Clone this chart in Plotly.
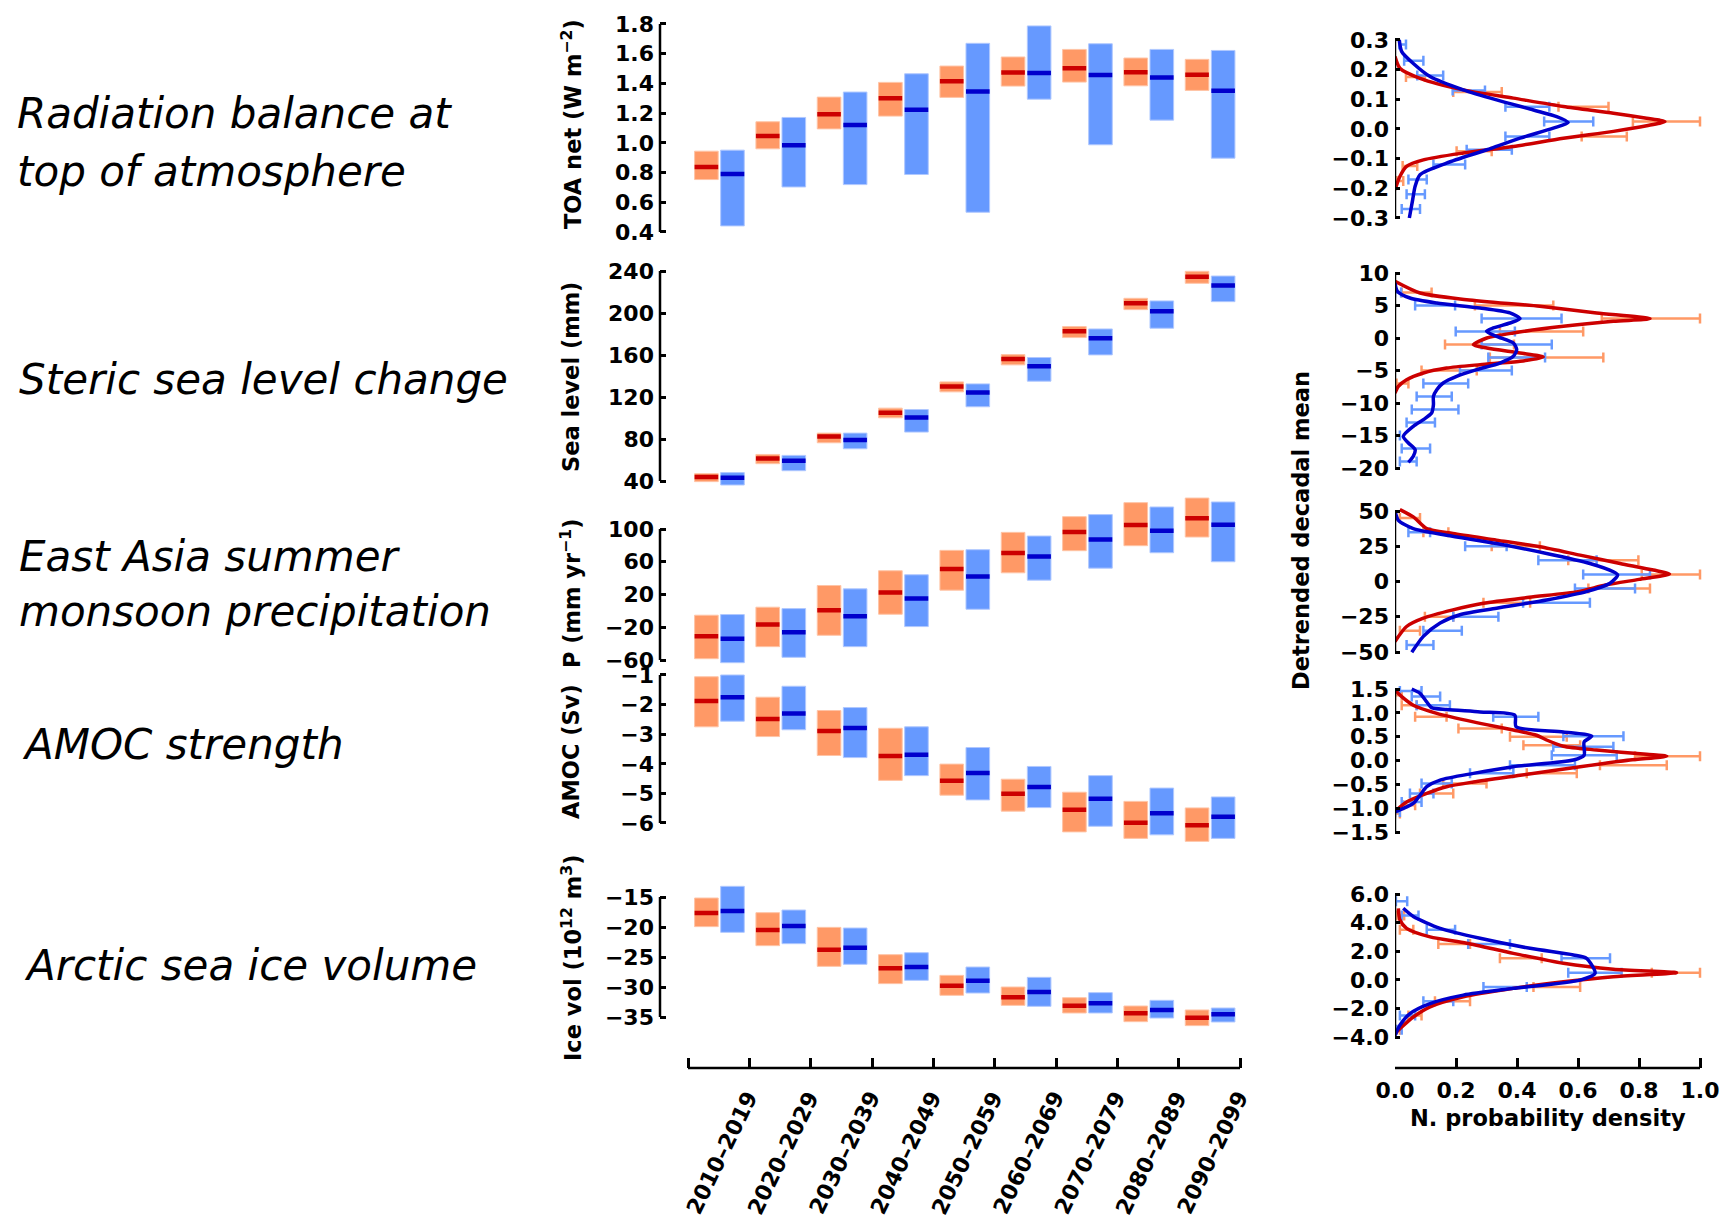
import plotly.graph_objects as go

W, H = 1735, 1222
FONT = "DejaVu Sans, Verdana, sans-serif"

ORANGE = "#FF9966"
ORANGE_EDGE = "#FFC4A6"
BLUE = "#6699FF"
BLUE_EDGE = "#B0C8FF"
RED = "#CC0000"
DBLUE = "#0000CC"

decades = ["2010–2019", "2020–2029", "2030–2039", "2040–2049", "2050–2059",
           "2060–2069", "2070–2079", "2080–2089", "2090–2099"]

# ---- decadal ranges (low / high / median) for the two ensembles ----
toa_r_lo = [0.753, 0.960, 1.094, 1.180, 1.306, 1.382, 1.409, 1.384, 1.353]
toa_r_hi = [0.944, 1.142, 1.308, 1.407, 1.517, 1.578, 1.629, 1.571, 1.562]
toa_r_med = [0.838, 1.047, 1.193, 1.301, 1.414, 1.474, 1.503, 1.476, 1.458]
toa_b_lo = [0.441, 0.703, 0.719, 0.787, 0.533, 1.294, 0.987, 1.153, 0.897]
toa_b_hi = [0.951, 1.171, 1.342, 1.465, 1.670, 1.787, 1.667, 1.629, 1.622]
toa_b_med = [0.791, 0.984, 1.121, 1.223, 1.346, 1.470, 1.456, 1.440, 1.351]

sea_r_lo = [39.4, 56.5, 76.4, 100.2, 124.9, 150.6, 176.6, 203.2, 228.3]
sea_r_hi = [47.0, 65.3, 85.6, 109.4, 134.4, 160.4, 187.1, 214.0, 239.7]
sea_r_med = [43.8, 61.5, 82.4, 105.0, 130.0, 156.3, 182.6, 209.3, 234.6]
sea_b_lo = [36.2, 49.8, 70.7, 86.6, 110.7, 135.1, 160.1, 185.5, 210.8]
sea_b_hi = [48.0, 64.4, 85.6, 108.1, 132.5, 157.6, 184.8, 211.5, 235.2]
sea_b_med = [43.1, 59.3, 79.0, 100.5, 124.3, 149.3, 176.0, 201.6, 226.1]

pr_r_lo = [-58.4, -43.7, -29.8, -4.1, 25.3, 46.5, 73.5, 79.6, 90.2]
pr_r_hi = [-5.3, 4.5, 31.0, 49.0, 73.9, 95.9, 115.1, 132.2, 137.8]
pr_r_med = [-31.0, -16.7, 0.8, 22.4, 51.0, 70.6, 96.3, 104.9, 113.0]
pr_b_lo = [-63.3, -56.7, -43.7, -19.2, 2.0, 37.5, 52.2, 71.0, 60.0]
pr_b_hi = [-4.5, 2.8, 26.9, 44.1, 74.7, 91.4, 117.6, 126.9, 133.0]
pr_b_med = [-33.9, -26.1, -6.5, 15.1, 42.0, 66.5, 87.3, 98.0, 105.3]

amoc_r_lo = [-2.75, -3.08, -3.72, -4.56, -5.06, -5.60, -6.30, -6.52, -6.62]
amoc_r_hi = [-1.06, -1.75, -2.20, -2.80, -4.01, -4.52, -4.96, -5.27, -5.49]
amoc_r_med = [-1.88, -2.49, -2.89, -3.74, -4.57, -5.01, -5.55, -5.99, -6.08]
amoc_b_lo = [-2.56, -2.85, -3.79, -4.40, -5.22, -5.48, -6.11, -6.40, -6.52]
amoc_b_hi = [-1.00, -1.38, -2.10, -2.75, -3.45, -4.09, -4.40, -4.82, -5.12]
amoc_b_med = [-1.75, -2.30, -2.79, -3.69, -4.31, -4.78, -5.18, -5.67, -5.79]

ice_r_lo = [-19.94, -23.11, -26.56, -29.44, -31.39, -33.06, -34.33, -35.78, -36.44]
ice_r_hi = [-15.17, -17.61, -20.06, -24.61, -28.06, -30.00, -31.78, -33.17, -33.83]
ice_r_med = [-17.67, -20.50, -23.78, -26.89, -29.78, -31.72, -33.11, -34.39, -35.11]
ice_b_lo = [-20.89, -22.78, -26.22, -28.89, -31.00, -33.22, -34.33, -35.17, -35.83]
ice_b_hi = [-13.22, -17.17, -20.17, -24.28, -26.67, -28.39, -30.94, -32.22, -33.50]
ice_b_med = [-17.33, -19.83, -23.44, -26.67, -28.94, -30.83, -32.72, -33.83, -34.56]

# ---- normalised PDFs of detrended decadal means (curve + histogram bins) ----
toa_pdf_r_y = [0.244, 0.205, 0.171, 0.132, 0.104, 0.076, 0.053, 0.036, 0.025, 0.011,
               -0.008, -0.031, -0.059, -0.081, -0.104, -0.126, -0.160, -0.205]
toa_pdf_r_p = [0.0, 0.016, 0.082, 0.224, 0.388, 0.552, 0.716, 0.825, 0.885, 0.825,
               0.716, 0.552, 0.388, 0.224, 0.093, 0.038, 0.016, 0.0]
toa_pdf_b_y = [0.300, 0.261, 0.221, 0.177, 0.132, 0.098, 0.064, 0.042, 0.022, 0.003,
               -0.031, -0.070, -0.115, -0.154, -0.193, -0.238, -0.300]
toa_pdf_b_p = [0.014, 0.022, 0.060, 0.115, 0.224, 0.333, 0.454, 0.530, 0.568, 0.519,
               0.410, 0.301, 0.169, 0.082, 0.066, 0.058, 0.047]
toa_hist_r_y = [0.175, 0.125, 0.075, 0.025, -0.025, -0.075, -0.125, -0.175]
toa_hist_r_lo = [0.036, 0.191, 0.536, 0.780, 0.612, 0.202, 0.025, 0.005]
toa_hist_r_hi = [0.098, 0.350, 0.700, 1.000, 0.760, 0.317, 0.073, 0.027]
toa_hist_b_y = [0.285, 0.23, 0.18, 0.13, 0.075, 0.025, -0.025, -0.07, -0.12, -0.17, -0.22, -0.27]
toa_hist_b_lo = [0.014, 0.030, 0.073, 0.189, 0.362, 0.489, 0.362, 0.235, 0.126, 0.044, 0.038, 0.022]
toa_hist_b_hi = [0.036, 0.093, 0.158, 0.295, 0.506, 0.650, 0.506, 0.383, 0.230, 0.104, 0.098, 0.082]

sea_pdf_r_y = [8.72, 6.92, 5.90, 4.87, 3.85, 2.97, 2.56, 1.79, 0.77, 0.0, -1.03, -1.54,
               -2.31, -2.92, -3.59, -4.10, -4.62, -5.38, -6.41, -7.44, -8.46]
sea_pdf_r_p = [0.0, 0.082, 0.235, 0.475, 0.661, 0.836, 0.716, 0.552, 0.388, 0.301, 0.257, 0.301,
               0.410, 0.486, 0.410, 0.279, 0.169, 0.093, 0.038, 0.011, 0.0]
sea_pdf_b_y = [8.46, 7.18, 6.15, 5.38, 4.62, 3.85, 2.97, 2.31, 1.54, 1.03, 0.26, -0.77, -1.79,
               -2.82, -3.85, -4.87, -5.90, -6.92, -7.95, -8.97, -10.26, -11.54, -12.56,
               -13.59, -15.13, -16.15, -17.18, -18.2, -19.13]
sea_pdf_b_p = [0.0, 0.008, 0.049, 0.137, 0.279, 0.377, 0.410, 0.377, 0.322, 0.300, 0.333, 0.388,
               0.399, 0.388, 0.344, 0.268, 0.202, 0.158, 0.137, 0.126, 0.126, 0.120, 0.093,
               0.060, 0.027, 0.044, 0.066, 0.060, 0.044]
sea_hist_r_y = [7, 5, 3, 1, -1, -3, -5, -7]
sea_hist_r_lo = [0.022, 0.262, 0.678, 0.344, 0.164, 0.311, 0.087, 0.005]
sea_hist_r_hi = [0.120, 0.519, 1.000, 0.617, 0.390, 0.683, 0.268, 0.044]
sea_hist_b_y = [7, 5, 3, 1, -1, -3, -5, -7, -9, -11, -13, -15, -17, -19]
sea_hist_b_lo = [0.0, 0.066, 0.284, 0.199, 0.284, 0.306, 0.213, 0.093, 0.071, 0.055, 0.038, 0.0, 0.022, 0.016]
sea_hist_b_hi = [0.020, 0.197, 0.546, 0.393, 0.514, 0.492, 0.383, 0.240, 0.186, 0.208, 0.131, 0.016, 0.115, 0.071]

pr_pdf_r_y = [51.0, 45.8, 37.5, 34.0, 29.3, 24.6, 18.7, 12.8, 8.1, 5.3, 1.5, -2.5, -7.2,
              -11.2, -15.4, -20.1, -26.0, -31.9, -42.5]
pr_pdf_r_p = [0.016, 0.060, 0.104, 0.190, 0.333, 0.475, 0.607, 0.738, 0.847, 0.900, 0.800,
              0.690, 0.600, 0.440, 0.290, 0.190, 0.093, 0.038, 0.0]
pr_pdf_b_y = [50.0, 43.4, 37.5, 32.8, 26.9, 19.9, 12.8, 6.9, 4.6, -1.3, -7.2, -13.1, -19.0,
              -23.6, -29.5, -38.9, -50.2]
pr_pdf_b_p = [0.0, 0.011, 0.060, 0.169, 0.333, 0.497, 0.639, 0.716, 0.730, 0.705, 0.628,
              0.497, 0.333, 0.213, 0.148, 0.093, 0.055]
pr_hist_r_y = [45, 35, 25, 15, 5, -5, -15, -25, -35]
pr_hist_r_lo = [0.016, 0.093, 0.317, 0.568, 0.809, 0.634, 0.290, 0.098, 0.016]
pr_hist_r_hi = [0.082, 0.175, 0.475, 0.798, 1.000, 0.836, 0.443, 0.191, 0.082]
pr_hist_b_y = [35, 25, 15, 5, -5, -15, -25, -35, -45]
pr_hist_b_lo = [0.044, 0.230, 0.470, 0.617, 0.590, 0.420, 0.191, 0.093, 0.038]
pr_hist_b_hi = [0.115, 0.366, 0.661, 0.836, 0.787, 0.639, 0.339, 0.219, 0.126]

amoc_pdf_r_y = [1.48, 1.34, 1.16, 0.99, 0.81, 0.64, 0.53, 0.43, 0.30, 0.22, 0.13, 0.09, 0.01,
                -0.13, -0.31, -0.45, -0.55, -0.69, -0.87, -1.04]
amoc_pdf_r_p = [0.0, 0.022, 0.060, 0.137, 0.257, 0.388, 0.464, 0.497, 0.552, 0.661, 0.825,
                0.891, 0.770, 0.607, 0.410, 0.257, 0.169, 0.104, 0.038, 0.005]
amoc_pdf_b_y = [1.50, 1.41, 1.23, 1.11, 1.07, 1.02, 0.95, 0.71, 0.60, 0.51, 0.39, 0.11, 0.01,
                -0.13, -0.27, -0.41, -0.55, -0.73, -0.90, -1.08]
amoc_pdf_b_p = [0.055, 0.082, 0.104, 0.120, 0.169, 0.279, 0.393, 0.397, 0.552, 0.645, 0.620,
                0.620, 0.585, 0.388, 0.257, 0.148, 0.104, 0.082, 0.060, 0.0]
amoc_hist_r_y = [1.37, 1.16, 0.92, 0.67, 0.50, 0.32, 0.09, -0.10, -0.27, -0.48, -0.69, -0.94, -1.11]
amoc_hist_r_lo = [0.0, 0.022, 0.066, 0.208, 0.377, 0.421, 0.787, 0.672, 0.432, 0.158, 0.082, 0.027, 0.0]
amoc_hist_r_hi = [0.022, 0.071, 0.169, 0.350, 0.563, 0.607, 1.000, 0.891, 0.596, 0.300, 0.191, 0.066, 0.016]
amoc_hist_b_y = [1.46, 1.34, 1.16, 0.92, 0.51, 0.29, 0.11, -0.10, -0.27, -0.48, -0.69, -0.87, -1.08]
amoc_hist_b_lo = [0.016, 0.055, 0.071, 0.322, 0.552, 0.519, 0.514, 0.377, 0.246, 0.087, 0.049, 0.022, 0.0]
amoc_hist_b_hi = [0.087, 0.148, 0.180, 0.470, 0.749, 0.716, 0.727, 0.590, 0.388, 0.186, 0.126, 0.087, 0.016]

ice_pdf_r_y = [5.0, 4.2, 3.6, 3.0, 2.56, 1.85, 1.15, 0.73, 0.50, 0.22, -0.14, -0.60, -1.19,
               -1.89, -2.6, -3.3, -3.77]
ice_pdf_r_p = [0.011, 0.016, 0.038, 0.115, 0.235, 0.388, 0.552, 0.716, 0.923, 0.716, 0.552,
               0.388, 0.224, 0.115, 0.060, 0.022, 0.0]
ice_pdf_b_y = [5.0, 4.43, 3.6, 2.9, 2.2, 1.74, 1.5, 0.45, -0.02, -0.6, -1.07, -1.66, -2.36, -3.18, -3.88]
ice_pdf_b_p = [0.027, 0.060, 0.148, 0.279, 0.443, 0.585, 0.628, 0.656, 0.607, 0.388, 0.224,
               0.115, 0.049, 0.016, 0.0]
ice_hist_r_y = [4.5, 3.5, 2.5, 1.5, 0.5, -0.5, -1.5, -2.5, -3.5]
ice_hist_r_lo = [0.005, 0.016, 0.142, 0.344, 0.842, 0.454, 0.131, 0.044, 0.0]
ice_hist_r_hi = [0.030, 0.060, 0.246, 0.481, 1.000, 0.607, 0.246, 0.087, 0.016]
ice_hist_b_y = [5.5, 4.5, 3.5, 2.5, 1.5, 0.5, -0.5, -1.5, -2.5, -3.5]
ice_hist_b_lo = [0.003, 0.022, 0.104, 0.240, 0.546, 0.568, 0.290, 0.093, 0.016, 0.005]
ice_hist_b_hi = [0.040, 0.077, 0.197, 0.377, 0.705, 0.743, 0.432, 0.191, 0.066, 0.022]

density_ticks = [0.0, 0.2, 0.4, 0.6, 0.8, 1.0]


def fmt(v, d):
    s = f"{v:.{d}f}"
    if s.lstrip("-").strip("0.") == "":
        s = s.lstrip("-")
    return s.replace("-", "−")


def ydom(v1, p1, v2, p2, lo, hi):
    k = (p2 - p1) / (v2 - v1)
    return [1 - (p1 + (lo - v1) * k) / H, 1 - (p1 + (hi - v1) * k) / H]


def ax_id(n):
    return "" if n == 1 else str(n)


# left column: calibration (value, pixel row) pairs, range, ticks, decimals, data, axis title, title centre row
left_panels = [
    dict(cal=(1.8, 24, 0.4, 232), rng=(0.37, 1.82), ticks=[0.4, 0.6, 0.8, 1.0, 1.2, 1.4, 1.6, 1.8], dec=1,
         data=(toa_r_lo, toa_r_hi, toa_r_med, toa_b_lo, toa_b_hi, toa_b_med),
         title="TOA net (W m<sup>−2</sup>)", tc=124),
    dict(cal=(240, 271, 40, 481), rng=(33, 246), ticks=[40, 80, 120, 160, 200, 240], dec=0,
         data=(sea_r_lo, sea_r_hi, sea_r_med, sea_b_lo, sea_b_hi, sea_b_med),
         title="Sea level (mm)", tc=377),
    dict(cal=(100, 529, -60, 660), rng=(-67, 141), ticks=[-60, -20, 20, 60, 100], dec=0,
         data=(pr_r_lo, pr_r_hi, pr_r_med, pr_b_lo, pr_b_hi, pr_b_med),
         title="P (mm yr<sup>−1</sup>)", tc=593),
    dict(cal=(-1, 675, -6, 823), rng=(-6.75, -0.93), ticks=[-6, -5, -4, -3, -2, -1], dec=0,
         data=(amoc_r_lo, amoc_r_hi, amoc_r_med, amoc_b_lo, amoc_b_hi, amoc_b_med),
         title="AMOC (Sv)", tc=752),
    dict(cal=(-15, 897, -35, 1017), rng=(-43.5, -12.5), ticks=[-35, -30, -25, -20, -15], dec=0,
         data=(ice_r_lo, ice_r_hi, ice_r_med, ice_b_lo, ice_b_hi, ice_b_med),
         title="Ice vol (10<sup>12</sup> m<sup>3</sup>)", tc=958),
]

right_panels = [
    dict(cal=(0.3, 40, -0.3, 218), rng=(-0.32, 0.32), ticks=[-0.3, -0.2, -0.1, 0.0, 0.1, 0.2, 0.3], dec=1,
         pdf=(toa_pdf_r_y, toa_pdf_r_p, toa_pdf_b_y, toa_pdf_b_p),
         hist=(toa_hist_r_y, toa_hist_r_lo, toa_hist_r_hi, toa_hist_b_y, toa_hist_b_lo, toa_hist_b_hi)),
    dict(cal=(10, 273, -20, 468), rng=(-21, 10.6), ticks=[-20, -15, -10, -5, 0, 5, 10], dec=0,
         pdf=(sea_pdf_r_y, sea_pdf_r_p, sea_pdf_b_y, sea_pdf_b_p),
         hist=(sea_hist_r_y, sea_hist_r_lo, sea_hist_r_hi, sea_hist_b_y, sea_hist_b_lo, sea_hist_b_hi)),
    dict(cal=(50, 511, -50, 652), rng=(-53, 53), ticks=[-50, -25, 0, 25, 50], dec=0,
         pdf=(pr_pdf_r_y, pr_pdf_r_p, pr_pdf_b_y, pr_pdf_b_p),
         hist=(pr_hist_r_y, pr_hist_r_lo, pr_hist_r_hi, pr_hist_b_y, pr_hist_b_lo, pr_hist_b_hi)),
    dict(cal=(1.5, 689, -1.5, 832), rng=(-1.6, 1.6), ticks=[-1.5, -1.0, -0.5, 0.0, 0.5, 1.0, 1.5], dec=1,
         pdf=(amoc_pdf_r_y, amoc_pdf_r_p, amoc_pdf_b_y, amoc_pdf_b_p),
         hist=(amoc_hist_r_y, amoc_hist_r_lo, amoc_hist_r_hi, amoc_hist_b_y, amoc_hist_b_lo, amoc_hist_b_hi)),
    dict(cal=(6.0, 894, -4.0, 1037), rng=(-6.17, 6.4), ticks=[-4.0, -2.0, 0.0, 2.0, 4.0, 6.0], dec=1,
         pdf=(ice_pdf_r_y, ice_pdf_r_p, ice_pdf_b_y, ice_pdf_b_p),
         hist=(ice_hist_r_y, ice_hist_r_lo, ice_hist_r_hi, ice_hist_b_y, ice_hist_b_lo, ice_hist_b_hi)),
]

# decade axis: tick k at pixel 688 + k*STEP, vertical axis line at pixel 660
STEP = (1240 - 688) / 9
LX0 = (660 - 688) / STEP
LX1 = 9.1
LEFT_XDOM = [660 / W, (688 + LX1 * STEP) / W]
OFF_R, OFF_B, BW = 0.30, 0.725, 0.385

# density axis: 0 at pixel 1395, 1 at pixel 1700
RX1 = 1.04
RIGHT_XDOM = [1395 / W, (1395 + RX1 * 305) / W]

fig = go.Figure()
layout = dict(width=W, height=H, margin=dict(l=0, r=0, t=0, b=0, pad=0, autoexpand=False),
              paper_bgcolor="white", plot_bgcolor="white", showlegend=False,
              barmode="overlay", font=dict(family=FONT, color="black"))
shapes, annotations = [], []

BOLD = dict(family=FONT, size=22, color="black", weight="bold")
AXW = 2.5

for i, p in enumerate(left_panels, start=1):
    xa, ya = "x" + ax_id(i), "y" + ax_id(i)
    lo_r, hi_r, med_r, lo_b, hi_b, med_b = p["data"]
    xs = list(range(len(decades)))
    fig.add_trace(go.Bar(x=[k + OFF_R for k in xs], y=[h - l for h, l in zip(hi_r, lo_r)], base=lo_r,
                         width=BW, marker=dict(color=ORANGE, line=dict(color=ORANGE_EDGE, width=1)),
                         xaxis=xa, yaxis=ya))
    fig.add_trace(go.Bar(x=[k + OFF_B for k in xs], y=[h - l for h, l in zip(hi_b, lo_b)], base=lo_b,
                         width=BW, marker=dict(color=BLUE, line=dict(color=BLUE_EDGE, width=1)),
                         xaxis=xa, yaxis=ya))
    for off, med, col in ((OFF_R, med_r, RED), (OFF_B, med_b, DBLUE)):
        mx, my = [], []
        for k, m in zip(xs, med):
            mx += [k + off - BW / 2, k + off + BW / 2, None]
            my += [m, m, None]
        fig.add_trace(go.Scatter(x=mx, y=my, mode="lines", line=dict(color=col, width=4.5),
                                 xaxis=xa, yaxis=ya))
    v1, p1, v2, p2 = p["cal"]
    bottom = i == len(left_panels)
    layout[f"xaxis{i}"] = dict(domain=LEFT_XDOM, range=[LX0, LX1], anchor=ya, showgrid=False,
                               zeroline=False, showline=False, showticklabels=False, automargin=False,
                               tickvals=list(range(10)) if bottom else [],
                               ticks="inside" if bottom else "", ticklen=10, tickwidth=AXW,
                               tickcolor="black")
    layout[f"yaxis{i}"] = dict(domain=ydom(v1, p1, v2, p2, *p["rng"]), range=list(p["rng"]),
                               anchor=xa, showgrid=False, zeroline=False, showline=False, automargin=False,
                               tickvals=p["ticks"], ticktext=[fmt(t, p["dec"]) for t in p["ticks"]],
                               ticks="inside", ticklen=6, tickwidth=AXW, tickcolor="black",
                               tickfont=BOLD, ticklabelstandoff=5)
    shapes.append(dict(type="line", xref=f"{xa} domain", yref=ya, x0=0, x1=0,
                       y0=min(p["ticks"]), y1=max(p["ticks"]), line=dict(color="black", width=AXW)))
    if bottom:
        shapes.append(dict(type="line", xref=xa, yref=f"{ya} domain", x0=0, x1=9, y0=0, y1=0,
                           line=dict(color="black", width=AXW)))
        for k, lab in enumerate(decades):
            annotations.append(dict(text=lab, xref=xa, yref="paper", x=k + 1 - 28 / STEP,
                                    y=1 - 1153 / H, showarrow=False, textangle=-64,
                                    xanchor="center", yanchor="middle", font=BOLD))
    annotations.append(dict(text=p["title"], xref="paper", yref="paper", x=571 / W, y=1 - p["tc"] / H,
                            showarrow=False, textangle=-90, xanchor="center", yanchor="middle",
                            font=dict(BOLD, size=22.5)))

n_left = len(left_panels)
for j, p in enumerate(right_panels, start=1):
    idx = n_left + j
    xa, ya = "x" + ax_id(idx), "y" + ax_id(idx)
    ry, rp, by, bp = p["pdf"]
    hry, hrlo, hrhi, hby, hblo, hbhi = p["hist"]
    for hy, hlo, hhi, col in ((hry, hrlo, hrhi, ORANGE), (hby, hblo, hbhi, BLUE)):
        fig.add_trace(go.Scatter(x=[(a + b) / 2 for a, b in zip(hlo, hhi)], y=hy, mode="markers",
                                 marker=dict(size=0.1, color=col, opacity=0),
                                 error_x=dict(type="data", array=[(b - a) / 2 for a, b in zip(hlo, hhi)],
                                              symmetric=True, color=col, thickness=2.5, width=5),
                                 xaxis=xa, yaxis=ya))
    fig.add_trace(go.Scatter(x=rp, y=ry, mode="lines",
                             line=dict(color=RED, width=3.5, shape="spline", smoothing=0.7),
                             xaxis=xa, yaxis=ya))
    fig.add_trace(go.Scatter(x=bp, y=by, mode="lines",
                             line=dict(color=DBLUE, width=3.5, shape="spline", smoothing=0.7),
                             xaxis=xa, yaxis=ya))
    v1, p1, v2, p2 = p["cal"]
    bottom = j == len(right_panels)
    layout[f"xaxis{idx}"] = dict(domain=RIGHT_XDOM, range=[0, RX1], anchor=ya, showgrid=False,
                                 zeroline=False, showline=False, showticklabels=bottom, automargin=False,
                                 tickvals=density_ticks if bottom else [],
                                 ticktext=[fmt(t, 1) for t in density_ticks] if bottom else None,
                                 ticks="inside" if bottom else "", ticklen=10, tickwidth=AXW,
                                 tickcolor="black", tickfont=BOLD, ticklabelstandoff=7)
    layout[f"yaxis{idx}"] = dict(domain=ydom(v1, p1, v2, p2, *p["rng"]), range=list(p["rng"]),
                                 anchor=xa, showgrid=False, zeroline=False, showline=False, automargin=False,
                                 tickvals=p["ticks"], ticktext=[fmt(t, p["dec"]) for t in p["ticks"]],
                                 ticks="inside", ticklen=5, tickwidth=AXW, tickcolor="black",
                                 tickfont=BOLD, ticklabelstandoff=5)
    shapes.append(dict(type="line", xref=xa, yref=ya, x0=0, x1=0,
                       y0=min(p["ticks"]), y1=max(p["ticks"]), line=dict(color="black", width=AXW)))
    if bottom:
        shapes.append(dict(type="line", xref=xa, yref=f"{ya} domain", x0=0, x1=1, y0=0, y1=0,
                           line=dict(color="black", width=AXW)))

annotations.append(dict(text="N. probability density", xref="paper", yref="paper",
                        x=1548 / W, y=1 - 1118 / H, showarrow=False, xanchor="center", yanchor="middle",
                        font=dict(BOLD, size=22.5)))
annotations.append(dict(text="Detrended decadal mean", xref="paper", yref="paper",
                        x=1301 / W, y=1 - 531 / H, showarrow=False, textangle=-90,
                        xanchor="center", yanchor="middle", font=dict(BOLD, size=22.5)))

# row labels on the left: (text, left pixel, centre row)
row_labels = [("Radiation balance at", 15, 113), ("top of atmosphere", 15, 171),
              ("Steric sea level change", 17, 379), ("East Asia summer", 17, 556),
              ("monsoon precipitation", 17, 611), ("AMOC strength", 20, 744),
              ("Arctic sea ice volume", 22, 965)]
ROW_SIZE = 42
for txt, px, py in row_labels:
    annotations.append(dict(text=txt, xref="paper", yref="paper", x=px / W, y=1 - py / H,
                            showarrow=False, xanchor="left", yanchor="middle",
                            font=dict(family=FONT, size=ROW_SIZE, color="black", style="italic")))

layout["shapes"] = shapes
layout["annotations"] = annotations
fig.update_layout(**layout)
fig.write_html("out.html")
